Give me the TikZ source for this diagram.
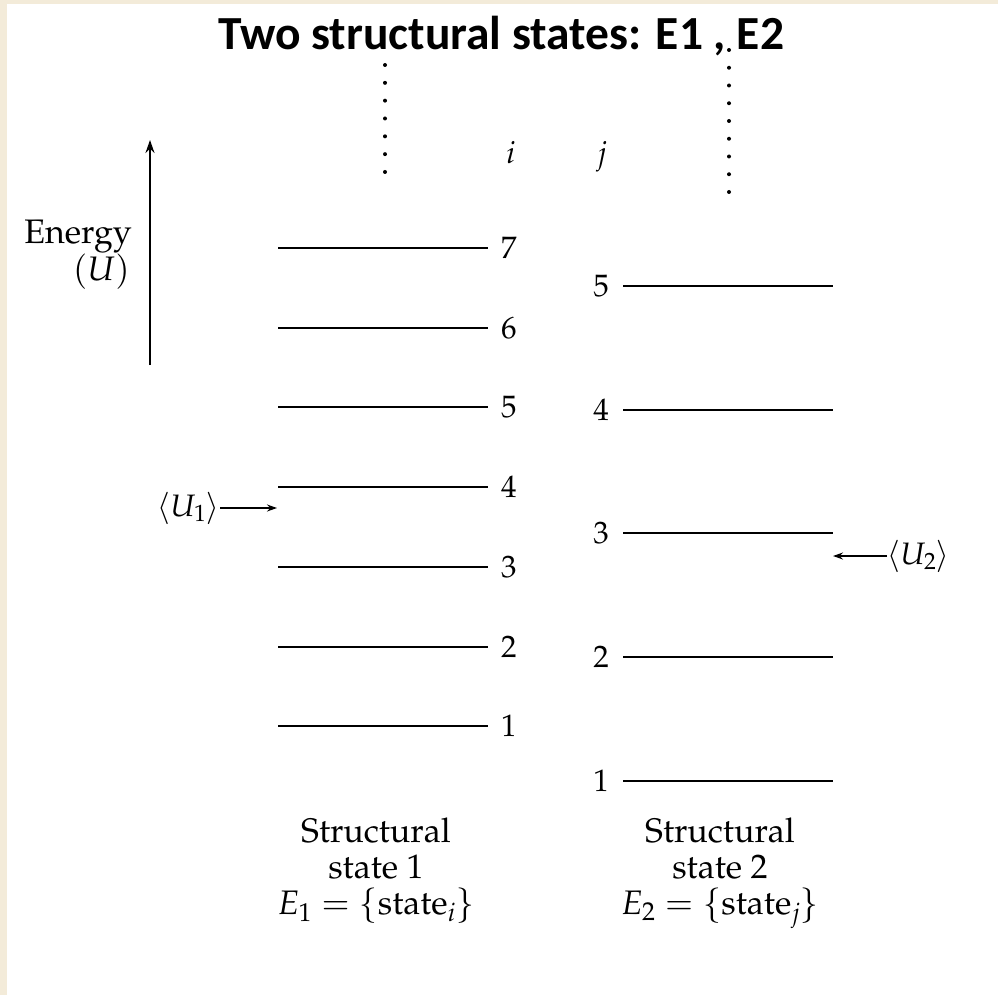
\documentclass[tikz,border=0pt]{standalone}
\usepackage{fontspec}
\usepackage[T1]{fontenc}
\usepackage{mathpazo}
\newfontfamily\titlefont{Carlito}
\usetikzlibrary{arrows.meta}
\definecolor{beige}{RGB}{243,235,217}
\begin{document}
\begin{tikzpicture}[x=1pt,y=-1pt,
  level/.style={line width=2pt},
  dotline/.style={line width=4pt, line cap=round, dash pattern=on 0pt off #1},
  num/.style={inner sep=0pt, font=\fontsize{31}{36}\selectfont},
  txt/.style={inner sep=0pt, font=\fontsize{34}{36}\selectfont},
  avg/.style={inner sep=0pt, font=\fontsize{31}{36}\selectfont},
  marker/.style={line width=1.5pt, -{Stealth[length=10pt,width=7pt]}}]
\fill[beige] (0,0) rectangle (998,995);
\fill[white] (7,4) rectangle (998,995);
\useasboundingbox (0,0) rectangle (998,995);
% title
\node[inner sep=0pt, anchor=base, font=\titlefont\bfseries\fontsize{47.5}{52}\selectfont] (title) at (501,50) {Two structural states: E1 , E2};
% dotted continuation lines
\coordinate (d1a) at (385,65); \coordinate (d1b) at (385,172);
\draw[dotline=17.83pt] (d1a) -- (d1b);
\coordinate (d2a) at (729,50); \coordinate (d2b) at (729,192);
\draw[dotline=17.75pt] (d2a) -- (d2b);
% indices
\node[num, anchor=base] (iidx) at (511,164) {$i$};
\node[num, anchor=base] (jidx) at (602,164) {$j$};
% energy axis
\coordinate (ea) at (150,365); \coordinate (eb) at (150,140);
\draw[line width=2pt, -{Stealth[length=13pt,width=9pt]}] (ea) -- (eb);
\node[inner sep=0pt, font=\fontsize{34}{34}\selectfont, align=right, anchor=north east] (energy) at (132,220) {Energy\\$(U)$\kern2pt};
% structural state 1 levels
\foreach \n/\y in {7/248,6/328,5/407,4/487,3/567,2/647,1/726}{
  \coordinate (La\n) at (278,\y); \coordinate (Lb\n) at (488,\y);
  \draw[level] (La\n) -- (Lb\n);
  \node[num, anchor=west] (Ln\n) at (501,\y) {\n};
}
% structural state 2 levels
\foreach \n/\y in {5/286,4/410,3/533,2/657,1/781}{
  \coordinate (Ra\n) at (623,\y); \coordinate (Rb\n) at (833,\y);
  \draw[level] (Ra\n) -- (Rb\n);
  \node[num, anchor=east] (Rn\n) at (609,\y) {\n};
}
% averages
\node[avg, anchor=east] (u1) at (220,508) {$\langle U_1\rangle$};
\coordinate (u1tip) at (277,508);
\draw[marker] (u1) -- (u1tip);
\node[avg, anchor=west] (u2) at (887,556) {$\langle U_2\rangle$};
\coordinate (u2tip) at (833,556);
\draw[marker] (u2) -- (u2tip);
% captions
\node[txt, align=center, anchor=north] (cap1) at (376,818) {Structural\\state 1\\$E_1=\{$state$_i\}$};
\node[txt, align=center, anchor=north] (cap2) at (720,818) {Structural\\state 2\\$E_2=\{$state$_j\}$};
\end{tikzpicture}
\end{document}
